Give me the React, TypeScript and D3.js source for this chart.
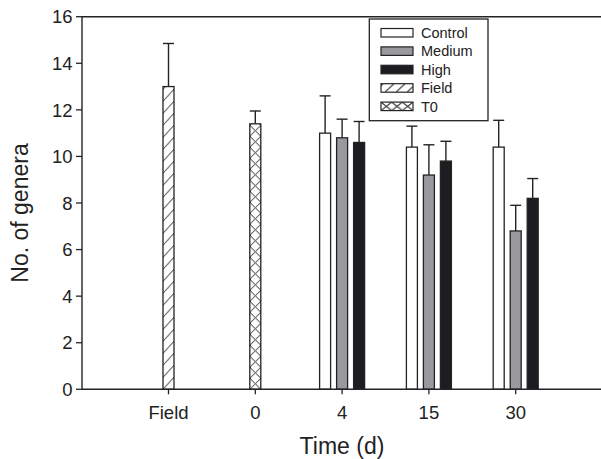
import React from "react";
import * as d3 from "d3";

const categories = ["Field", "0", "4", "15", "30"];
const timeGroups = ["4", "15", "30"];
const fieldValue = 13.0;
const fieldErr = 1.85;
const t0Value = 11.4;
const t0Err = 0.55;
const control = [11.0, 10.4, 10.4];
const controlErr = [1.6, 0.9, 1.15];
const medium = [10.8, 9.2, 6.8];
const mediumErr = [0.8, 1.3, 1.1];
const high = [10.6, 9.8, 8.2];
const highErr = [0.9, 0.85, 0.85];
const yTicks = [0, 2, 4, 6, 8, 10, 12, 14, 16];
const legendLabels = ["Control", "Medium", "High", "Field", "T0"];

const W = 601;
const H = 459;
const left = 82;
const right = 601;
const top = 16.7;
const bottom = 389.3;
const FONT = "'Liberation Sans', Arial, Helvetica, sans-serif";
const STROKE = "#232326";
const MED = "#9a9a9e";
const HIGH = "#1d1d21";

export default function App() {
  const x = d3.scalePoint<string>().domain(categories).range([168.5, 515.7]);
  const y = d3.scaleLinear().domain([0, 16]).range([bottom, top]);
  const bw = 11;
  const step = 17;

  type Bar = { key: string; cx: number; v: number; e: number; fill: string };
  const bars: Bar[] = [];
  bars.push({ key: "field", cx: x("Field")!, v: fieldValue, e: fieldErr, fill: "url(#hatch-field)" });
  bars.push({ key: "t0", cx: x("0")!, v: t0Value, e: t0Err, fill: "url(#hatch-t0)" });
  timeGroups.forEach((g, i) => {
    const c = x(g)!;
    bars.push({ key: "c" + g, cx: c - step, v: control[i], e: controlErr[i], fill: "#ffffff" });
    bars.push({ key: "m" + g, cx: c, v: medium[i], e: mediumErr[i], fill: MED });
    bars.push({ key: "h" + g, cx: c + step, v: high[i], e: highErr[i], fill: HIGH });
  });

  const fieldX = x("Field")! - bw / 2;
  const t0X = x("0")! - bw / 2;

  const legX = 381;
  const legY0 = 28.5;
  const legStep = 18.4;
  const swW = 32;
  const swH = 8.5;
  const legendFills = ["#ffffff", MED, HIGH, "url(#leg-field)", "url(#leg-t0)"];

  return (
    <div style={{ position: "absolute", left: 0, top: 0 }}>
      <svg width={W} height={H} style={{ display: "block", background: "#fff" }}>
        <defs>
          <pattern id="hatch-field" patternUnits="userSpaceOnUse" x={fieldX} y={bottom} width={bw} height={12}>
            <line x1={0} y1={12} x2={bw} y2={0} stroke={STROKE} strokeWidth={1} />
            <line x1={-bw} y1={12} x2={0} y2={0} stroke={STROKE} strokeWidth={1} />
          </pattern>
          <pattern id="hatch-t0" patternUnits="userSpaceOnUse" x={t0X} y={bottom} width={bw} height={11}>
            <line x1={0} y1={0} x2={bw} y2={11} stroke={STROKE} strokeWidth={1} />
            <line x1={0} y1={11} x2={bw} y2={0} stroke={STROKE} strokeWidth={1} />
          </pattern>
          <pattern id="leg-field" patternUnits="userSpaceOnUse" x={legX + 4} y={legY0 + 3 * legStep} width={11} height={swH}>
            <line x1={0} y1={swH} x2={9} y2={0} stroke={STROKE} strokeWidth={1} />
          </pattern>
          <pattern id="leg-t0" patternUnits="userSpaceOnUse" x={legX} y={legY0 + 4 * legStep} width={swW / 3} height={swH}>
            <line x1={0} y1={0} x2={swW / 3} y2={swH} stroke={STROKE} strokeWidth={1} />
            <line x1={0} y1={swH} x2={swW / 3} y2={0} stroke={STROKE} strokeWidth={1} />
          </pattern>
        </defs>

        {/* bars */}
        {bars.map((b) => (
          <g key={b.key}>
            <line x1={b.cx} x2={b.cx} y1={y(b.v)} y2={y(b.v + b.e)} stroke={STROKE} strokeWidth={1.4} />
            <line x1={b.cx - bw / 2} x2={b.cx + bw / 2} y1={y(b.v + b.e)} y2={y(b.v + b.e)} stroke={STROKE} strokeWidth={1.4} />
            <rect x={b.cx - bw / 2} y={y(b.v)} width={bw} height={bottom - y(b.v)} fill={b.fill} stroke={STROKE} strokeWidth={1.3} />
          </g>
        ))}

        {/* axes frame */}
        <line x1={left} x2={right} y1={top} y2={top} stroke={STROKE} strokeWidth={1.4} />
        <line x1={left} x2={left} y1={top} y2={bottom} stroke={STROKE} strokeWidth={1.4} />
        <line x1={left} x2={right} y1={bottom} y2={bottom} stroke={STROKE} strokeWidth={1.4} />

        {/* y ticks */}
        {yTicks.map((t) => (
          <g key={"y" + t}>
            <line x1={left - 6} x2={left} y1={y(t)} y2={y(t)} stroke={STROKE} strokeWidth={1.3} />
            <text x={72.5} y={y(t)} dy="0.36em" textAnchor="end" fontFamily={FONT} fontSize={18.5} fill="#222">
              {t}
            </text>
          </g>
        ))}

        {/* x ticks */}
        {categories.map((c) => (
          <g key={"x" + c}>
            <line x1={x(c)!} x2={x(c)!} y1={bottom} y2={bottom + 5} stroke={STROKE} strokeWidth={1.3} />
            <text x={x(c)!} y={418.6} textAnchor="middle" fontFamily={FONT} fontSize={18.5} fill="#222">
              {c}
            </text>
          </g>
        ))}

        {/* axis titles */}
        <text x={342} y={453.8} textAnchor="middle" fontFamily={FONT} fontSize={23} fill="#222">
          Time (d)
        </text>
        <text
          transform={`translate(27.5, ${(top + bottom) / 2 + 10}) rotate(-90)`}
          textAnchor="middle"
          fontFamily={FONT}
          fontSize={23}
          fill="#222"
        >
          No. of genera
        </text>

        {/* legend */}
        <rect x={369.3} y={19} width={118.7} height={101.7} fill="#fff" stroke={STROKE} strokeWidth={1.3} />
        {legendLabels.map((l, i) => {
          const yy = legY0 + i * legStep;
          return (
            <g key={"leg" + l}>
              <rect x={legX} y={yy} width={swW} height={swH} fill={legendFills[i]} stroke={STROKE} strokeWidth={1.2} />
              <text x={421} y={yy + swH / 2} dy="0.36em" fontFamily={FONT} fontSize={14.5} fill="#222">
                {l}
              </text>
            </g>
          );
        })}
      </svg>
    </div>
  );
}
